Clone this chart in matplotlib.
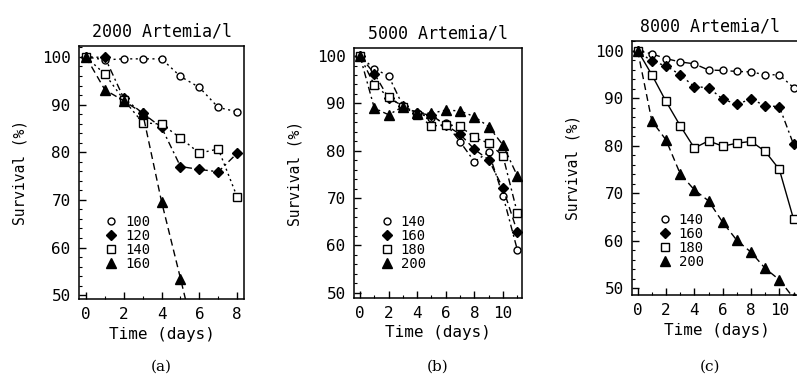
import matplotlib
matplotlib.use("Agg")
import matplotlib.pyplot as plt
from matplotlib.lines import Line2D
from matplotlib.ticker import MultipleLocator

plt.rcParams['font.family'] = 'DejaVu Sans Mono'

# panel (a) : 2000 Artemia/l
days_a = [0, 1, 2, 3, 4, 5, 6, 7, 8]
a_100 = [100, 99.4, 99.6, 99.6, 99.6, 95.9, 93.6, 89.4, 88.5]
a_120 = [100, 99.9, 91.3, 88.2, 85.2, 77.0, 76.4, 75.9, 79.8]
a_140 = [100, 96.4, 91.0, 86.2, 85.9, 83.0, 79.8, 80.7, 70.6]
days_a160 = [0, 1, 2, 3, 4, 5, 6]
a_160 = [100, 93.1, 90.8, 88.2, 69.6, 53.5, 37.0]

# panel (b) : 5000 Artemia/l
days_b = [0, 1, 2, 3, 4, 5, 6, 7, 8, 9, 10, 11]
b_140 = [100, 97.3, 95.8, 89.5, 87.9, 87.0, 85.8, 81.9, 77.7, 79.7, 70.5, 59.1]
b_160 = [100, 96.3, 91.1, 89.5, 88.0, 87.5, 85.4, 83.5, 80.3, 78.1, 72.1, 62.9]
b_180 = [100, 93.9, 91.4, 89.3, 87.6, 85.2, 85.5, 85.2, 82.8, 81.6, 78.9, 66.9]
b_200 = [100, 89.0, 87.6, 89.3, 88.0, 87.9, 88.6, 88.4, 87.2, 85.1, 81.2, 74.7]

# panel (c) : 8000 Artemia/l
days_c = [0, 1, 2, 3, 4, 5, 6, 7, 8, 9, 10, 11]
c_140 = [100, 99.3, 98.3, 97.6, 97.2, 95.9, 95.8, 95.6, 95.5, 94.9, 94.9, 92.2]
c_160 = [100, 97.7, 96.8, 94.9, 92.4, 92.2, 89.8, 88.7, 89.8, 88.4, 88.2, 80.3]
c_180 = [100, 94.9, 89.3, 84.2, 79.5, 81.0, 79.9, 80.5, 80.9, 78.8, 75.0, 64.6]
c_200 = [100, 85.2, 81.2, 74.1, 70.7, 68.4, 63.9, 60.1, 57.6, 54.2, 51.8, 48.0]

dotted = (0, (1.5, 2.5))
dashdot = (0, (5, 2.5, 1.5, 2.5))
dashed = (0, (5, 3))

W, H = 797, 381
fig = plt.figure(figsize=(W / 100, H / 100), dpi=100)
fig.patch.set_facecolor('white')


def box(l, r, t, b):
    return [l / W, (H - b) / H, (r - l) / W, (b - t) / H]


def style(ax, xlim, ylim, xmax_tick):
    ax.set_xlim(*xlim)
    ax.set_ylim(*ylim)
    ax.set_xticks(range(0, xmax_tick + 1, 2))
    ax.set_yticks(range(50, 101, 10))
    ax.xaxis.set_minor_locator(MultipleLocator(1))
    ax.yaxis.set_minor_locator(MultipleLocator(2))
    ax.tick_params(which='both', direction='in', top=False, right=False,
                   labelsize=11.5, pad=6)
    ax.tick_params(which='major', length=5, width=1)
    ax.tick_params(which='minor', length=2.5, width=0.8)
    for s in ax.spines.values():
        s.set_linewidth(1.1)
    ax.set_xlabel('Time (days)', fontsize=11.5, labelpad=3)
    ax.set_ylabel('Survival (%)', fontsize=10.5, labelpad=10)


def series(ax, x, y, marker, ls, fill, ms):
    ax.plot(x, y, color='black', lw=1.0, linestyle=ls, marker=marker,
            markersize=ms, markerfacecolor='black' if fill else 'white',
            markeredgecolor='black', markeredgewidth=1.0)


def legend(ax, labels, anchor):
    specs = [('o', False, 5), ('D', True, 5), ('s', False, 6), ('^', True, 7)]
    handles = [Line2D([], [], linestyle='none', marker=m, markersize=s,
                      markerfacecolor='black' if f else 'white',
                      markeredgecolor='black') for m, f, s in specs]
    ax.legend(handles, labels, loc='upper left', bbox_to_anchor=anchor,
              frameon=False, fontsize=10, handlelength=0.8,
              handletextpad=0.6, labelspacing=0.0, borderpad=0)


# (a)
ax = fig.add_axes(box(79, 244, 46, 299))
series(ax, days_a, a_100, 'o', dotted, False, 5)
series(ax, days_a, a_120, 'D', dashdot, True, 5)
series(ax, days_a, a_140, 's', dotted, False, 6)
series(ax, days_a160, a_160, '^', dashed, True, 7)
style(ax, (-0.37, 8.36), (49.2, 102.3), 8)
ax.set_title('2000 Artemia/l', fontsize=12, pad=7)
legend(ax, ['100', '120', '140', '160'], (0.12, 0.36))
fig.text(161 / W, 1 - 367 / H, '(a)', ha='center', va='center',
         family='DejaVu Serif', fontsize=11)

# (b)
ax = fig.add_axes(box(354, 522, 48, 298))
series(ax, days_b, b_140, 'o', dashdot, False, 5)
series(ax, days_b, b_160, 'D', dashed, True, 5)
series(ax, days_b, b_180, 's', dashdot, False, 6)
series(ax, days_b, b_200, '^', dashdot, True, 7)
style(ax, (-0.42, 11.33), (48.9, 101.7), 10)
ax.set_title('5000 Artemia/l', fontsize=12, pad=7)
legend(ax, ['140', '160', '180', '200'], (0.12, 0.36))
fig.text(438 / W, 1 - 367 / H, '(b)', ha='center', va='center',
         family='DejaVu Serif', fontsize=11)

# (c)
ax = fig.add_axes(box(632, 802, 41, 295))
series(ax, days_c, c_140, 'o', dashdot, False, 5)
series(ax, days_c, c_160, 'D', dashdot, True, 5)
series(ax, days_c, c_180, 's', '-', False, 6)
series(ax, days_c, c_200, '^', dashed, True, 7)
style(ax, (-0.4, 11.6), (48.6, 102.0), 10)
ax.set_title('8000 Artemia/l', fontsize=12, pad=7, x=0.46)
legend(ax, ['140', '160', '180', '200'], (0.12, 0.35))
fig.text(710 / W, 1 - 367 / H, '(c)', ha='center', va='center',
         family='DejaVu Serif', fontsize=11)

fig.savefig('out.png', dpi=100, facecolor='white')
